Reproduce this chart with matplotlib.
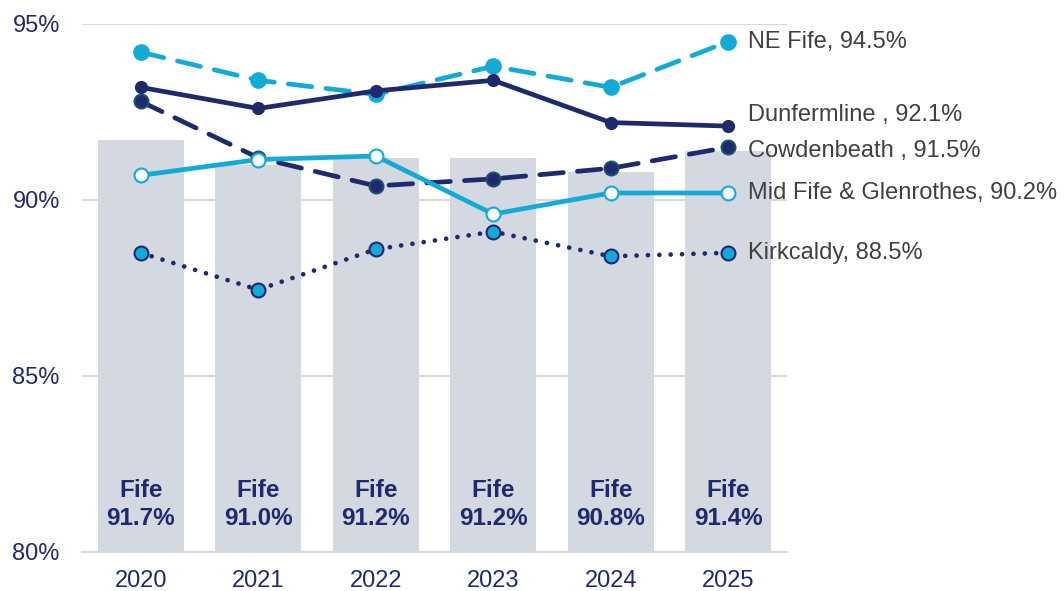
import matplotlib.pyplot as plt
import numpy as np

plt.rcParams['font.family'] = ['Liberation Sans', 'DejaVu Sans']

years = ['2020', '2021', '2022', '2023', '2024', '2025']
fife = [91.7, 91.0, 91.2, 91.2, 90.8, 91.4]

ne_fife = [94.2, 93.4, 93.0, 93.8, 93.2, 94.5]
dunfermline = [93.2, 92.6, 93.1, 93.4, 92.2, 92.1]
cowdenbeath = [92.8, 91.2, 90.4, 90.6, 90.9, 91.5]
mid_fife = [90.7, 91.15, 91.25, 89.6, 90.2, 90.2]
kirkcaldy = [88.5, 87.45, 88.6, 89.1, 88.4, 88.5]

names = ['NE Fife', 'Dunfermline ', 'Cowdenbeath ', 'Mid Fife & Glenrothes', 'Kirkcaldy']

NAVY = '#1f2a6e'
BLUE = '#13aad8'
BAR = '#d3d8e1'
GRID = '#d9d9d9'
TEXT = '#404040'

fig = plt.figure(figsize=(10.64, 5.91), dpi=100)
ax = fig.add_axes([82/1064, 1-552/591, 705/1064, 528/591])

x = np.arange(len(years))
ax.bar(x, np.array(fife) - 80, bottom=80, width=0.73, color=BAR, zorder=1)
for i, v in enumerate(fife):
    ax.text(x[i], 81.35, 'Fife\n%.1f%%' % v, ha='center', va='center',
            fontsize=17.5, fontweight='bold', color=NAVY, linespacing=1.25, zorder=2)

# series styles: line colour, linestyle, marker fill, marker edge, marker size
series = [
    (ne_fife, BLUE, (0, (5.0, 3.0)), BLUE, BLUE, 10.5),
    (dunfermline, NAVY, '-', NAVY, NAVY, 8),
    (cowdenbeath, NAVY, (0, (5.0, 3.0)), NAVY, '#1b4f6a', 10),
    (mid_fife, BLUE, '-', 'white', BLUE, 10),
    (kirkcaldy, NAVY, (0, (0.01, 2.4)), BLUE, NAVY, 10),
]
label_nudge = [0, 8, -3, 0, 0]

for (vals, c, ls, mfc, mec, ms), nm, dy in zip(series, names, label_nudge):
    ax.plot(x, vals, color=c, linestyle=ls, lw=3.4, marker='o', ms=ms,
            mfc=mfc, mec=mec, mew=1.5, dash_capstyle='round', zorder=3)
    ax.annotate('%s, %.1f%%' % (nm, vals[-1]), (x[-1], vals[-1]),
                xytext=(14, dy), textcoords='offset points', ha='left', va='center',
                fontsize=17, color=TEXT, annotation_clip=False)

ax.set_xlim(-0.5, 5.5)
ax.set_ylim(80, 95)
ax.set_yticks([80, 85, 90, 95])
ax.set_yticklabels(['80%', '85%', '90%', '95%'])
ax.set_xticks(x)
ax.set_xticklabels(years)
ax.tick_params(axis='both', length=0, labelsize=17, labelcolor=NAVY)
ax.tick_params(axis='y', pad=16)
ax.tick_params(axis='x', pad=13)
ax.grid(axis='y', color=GRID, lw=1.5, zorder=0)
ax.set_axisbelow(True)
for s in ax.spines.values():
    s.set_visible(False)
ax.spines['bottom'].set_visible(True)
ax.spines['bottom'].set_color(GRID)
ax.spines['bottom'].set_linewidth(1.5)

fig.savefig('out.png', dpi=100)
